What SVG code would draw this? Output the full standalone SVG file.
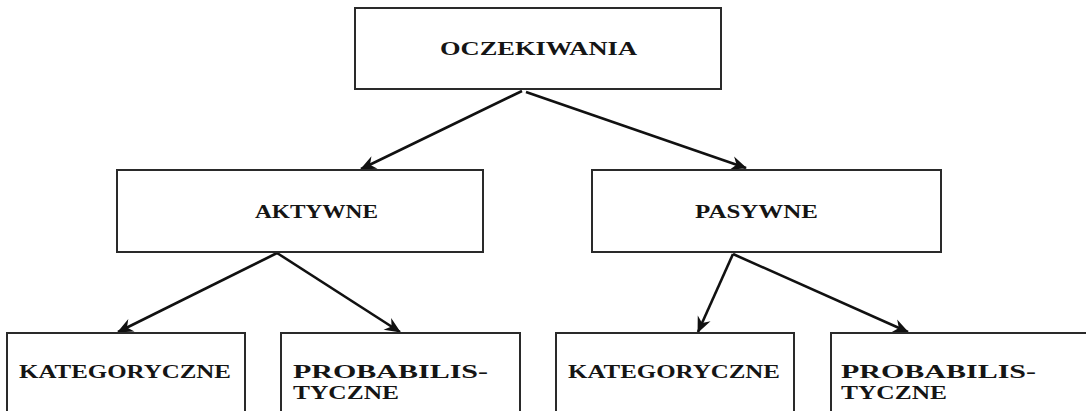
<svg xmlns="http://www.w3.org/2000/svg" width="1086" height="411" viewBox="0 0 1086 411">
<style>
.box{fill:#fff;stroke:#2a2a2a;stroke-width:2}
.lbl{font-family:"Liberation Serif","Times New Roman",serif;font-weight:bold;font-size:19px;fill:#151515}
.edge{stroke:#111;stroke-width:2.6;fill:none;marker-end:url(#ah)}
</style>
<defs>
<marker id="ah" markerUnits="userSpaceOnUse" viewBox="-16 -8 18 16" refX="0" refY="0" markerWidth="18" markerHeight="16" orient="auto">
<path d="M1,0 L-15,-7 L-10,0 L-15,7 Z" fill="#111"/>
</marker>
</defs>
<rect width="1086" height="411" fill="#fff"/>
<g id="connectors">
<line class="edge" x1="522" y1="91" x2="361" y2="169"/>
<line class="edge" x1="526" y1="92" x2="746" y2="168"/>
<line class="edge" x1="277" y1="253" x2="118" y2="332"/>
<line class="edge" x1="277" y1="253" x2="400" y2="332"/>
<line class="edge" x1="733" y1="254" x2="698" y2="332"/>
<line class="edge" x1="733" y1="254" x2="908" y2="332"/>
</g>
<g id="n-oczekiwania">
<rect class="box" x="355" y="8" width="366" height="81"/>
<text class="lbl" x="440" y="55" textLength="197" lengthAdjust="spacingAndGlyphs">OCZEKIWANIA</text>
</g>
<g id="n-aktywne">
<rect class="box" x="117" y="170" width="366" height="82"/>
<text class="lbl" x="255" y="218" textLength="123" lengthAdjust="spacingAndGlyphs">AKTYWNE</text>
</g>
<g id="n-pasywne">
<rect class="box" x="592" y="170" width="349" height="82"/>
<text class="lbl" x="695" y="218" textLength="123" lengthAdjust="spacingAndGlyphs">PASYWNE</text>
</g>
<g id="n-kat1">
<rect class="box" x="7" y="333" width="238" height="100"/>
<text class="lbl" x="19" y="378" textLength="212" lengthAdjust="spacingAndGlyphs">KATEGORYCZNE</text>
</g>
<g id="n-prob1">
<rect class="box" x="281" y="333" width="239" height="100"/>
<text class="lbl" x="293" y="378" textLength="195" lengthAdjust="spacingAndGlyphs">PROBABILIS-</text>
<text class="lbl" x="293" y="399" textLength="106" lengthAdjust="spacingAndGlyphs">TYCZNE</text>
</g>
<g id="n-kat2">
<rect class="box" x="556" y="333" width="238" height="100"/>
<text class="lbl" x="568" y="378" textLength="212" lengthAdjust="spacingAndGlyphs">KATEGORYCZNE</text>
</g>
<g id="n-prob2">
<rect class="box" x="831" y="333" width="270" height="100"/>
<text class="lbl" x="841" y="378" textLength="195" lengthAdjust="spacingAndGlyphs">PROBABILIS-</text>
<text class="lbl" x="841" y="399" textLength="106" lengthAdjust="spacingAndGlyphs">TYCZNE</text>
</g>
</svg>
